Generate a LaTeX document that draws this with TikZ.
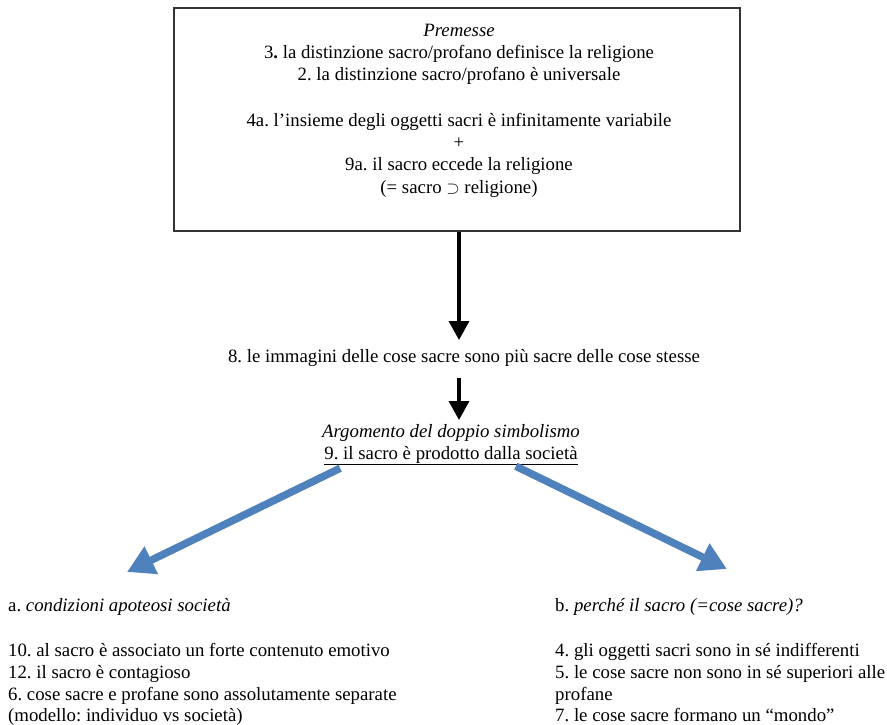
\documentclass[tikz,border=0pt]{standalone}
\usepackage{fontspec}
\setmainfont{Liberation Serif}
\usetikzlibrary{arrows.meta,calc}
\definecolor{arrowblue}{HTML}{4F81BD}
\frenchspacing
\begin{document}
\begin{tikzpicture}[x=1pt,y=-1pt,
  txt/.style={anchor=base,inner sep=0pt,font=\fontsize{18.8}{22}\selectfont},
  ltxt/.style={txt,anchor=base west},
  blk/.style={line width=3.5pt,-{Triangle[width=20pt,length=19pt]}},
  blu/.style={draw=arrowblue,line width=7.5pt,-{Triangle[width=29pt,length=27pt]},arrowblue}]
\useasboundingbox (0,0) rectangle (887,725);
% premise box
\node[draw=black!80,line width=2pt,minimum width=566pt,minimum height=223pt,inner sep=0pt] (box) at (457,119.5) {};
\node[txt] (p0) at (459,37) {\textit{Premesse}};
\node[txt] (p1) at (459,59) {3\textbf{.} la distinzione sacro/profano definisce la religione};
\node[txt] (p2) at (459,81) {2. la distinzione sacro/profano è universale};
\node[txt] (p3) at (459,126) {4a. l’insieme degli oggetti sacri è infinitamente variabile};
\node[txt] (p4) at (459,148) {+};
\node[txt] (p5) at (459,170) {9a. il sacro eccede la religione};
\node[txt] (p6) at (459,193) {(= sacro $\supset$ religione)};
% middle
\node[txt] (t8) at (464,362) {8. le immagini delle cose sacre sono più sacre delle cose stesse};
\node[txt] (arg) at (451,437) {\textit{Argomento del doppio simbolismo}};
\node[txt] (t9) at (451,459) {\underline{9. il sacro è prodotto dalla società}};
% bottom left
\node[ltxt] (a0) at (8,611) {a. \textit{condizioni apoteosi società}};
\node[ltxt] (a1) at (8,656) {10. al sacro è associato un forte contenuto emotivo};
\node[ltxt] (a2) at (8,678) {12. il sacro è contagioso};
\node[ltxt] (a3) at (8,700) {6. cose sacre e profane sono assolutamente separate};
\node[ltxt] (a4) at (8,721) {(modello: individuo vs società)};
% bottom right
\node[ltxt] (b0) at (555,611) {b. \textit{perché il sacro (=cose sacre)?}};
\node[ltxt] (b1) at (555,656) {4. gli oggetti sacri sono in sé indifferenti};
\node[ltxt] (b2) at (555,678) {5. le cose sacre non sono in sé superiori alle};
\node[ltxt] (b3) at (555,700) {profane};
\node[ltxt] (b4) at (555,721) {7. le cose sacre formano un “mondo”};
% connectors
\coordinate (s1) at ($(box.south)+(2,0)$);
\coordinate (e1) at (459,340);
\coordinate (s2) at (459,378);
\coordinate (e2) at (459,420);
\draw[blk] (s1) -- (e1);
\draw[blk] (s2) -- (e2);
\coordinate (lt) at (127,572);
\coordinate (rt) at (727,569);
\draw[blu] ($(t9.south west)+(16,3)$) -- (lt);
\draw[blu] ($(t9.south east)+(-62,1)$) -- (rt);
\end{tikzpicture}
\end{document}
